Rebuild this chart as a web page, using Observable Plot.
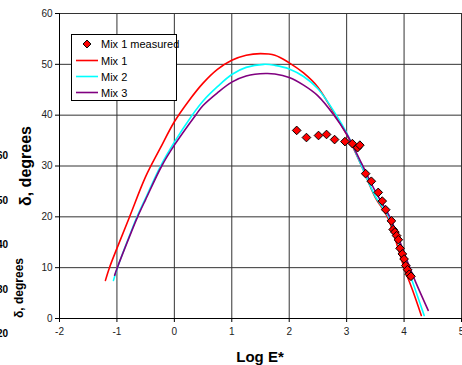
<!DOCTYPE html>
<html><head><meta charset="utf-8">
<script src="https://cdn.jsdelivr.net/npm/d3@7"></script>
<script src="https://cdn.jsdelivr.net/npm/@observablehq/plot@0.6"></script>
<style>
body{margin:0;background:#fff;}
#chart{position:relative;width:462px;height:365px;overflow:hidden;}
</style>
</head><body><div id="chart"></div>
<script>
// Tick values
const xTicks = [-2, -1, 0, 1, 2, 3, 4, 5];
const yTicks = [0, 10, 20, 30, 40, 50, 60];

// Mix 1 model curve
const mix1X = [-1.2, -1.13, -1.0, -0.78, -0.5, -0.25, 0, 0.25, 0.5, 0.75, 1, 1.25, 1.5, 1.75, 2, 2.25, 2.5, 2.8, 3, 3.26, 3.5, 3.71, 4, 4.15, 4.3];
const mix1Y = [7.5, 10, 13.8, 20, 27.9, 33.4, 38.7, 42.8, 46.3, 49.0, 50.8, 51.8, 52.1, 51.8, 50.3, 48.3, 45.5, 40, 36.2, 30, 23.8, 20, 10, 5.5, 0.6];

// Mix 2 model curve
const mix2X = [-1.06, -1, -0.75, -0.65, -0.5, -0.24, 0, 0.31, 0.5, 0.75, 1, 1.25, 1.56, 1.75, 2, 2.25, 2.5, 2.82, 3, 3.26, 3.5, 3.73, 4.06, 4.2, 4.35];
const mix2Y = [7.5, 9.7, 17.2, 20, 23.7, 30, 34.7, 40, 42.8, 45.6, 48, 49.4, 50, 49.8, 49.1, 47.6, 45.2, 40, 36.5, 30, 24, 20, 10, 5.5, 0.6];

// Mix 3 model curve
const mix3X = [-1.04, -1, -0.75, -0.64, -0.5, -0.22, 0, 0.37, 0.5, 0.75, 1, 1.25, 1.59, 1.75, 2, 2.25, 2.5, 2.78, 3, 3.26, 3.5, 3.75, 4.1, 4.2, 4.42];
const mix3Y = [8.5, 9.8, 17.0, 20, 23.4, 30, 34.1, 40, 41.9, 44.4, 46.5, 47.7, 48.2, 48.1, 47.4, 45.9, 43.8, 40, 36.3, 30.5, 25, 20, 10, 7.2, 1.6];

// Mix 1 measured points
const measX = [2.13, 2.30, 2.51, 2.65, 2.79, 2.97, 3.10, 3.19, 3.23, 3.33, 3.43, 3.55, 3.62, 3.68, 3.78, 3.81, 3.84, 3.87, 3.90, 3.93, 3.97, 4.00, 4.03, 4.06, 4.09, 4.12];
const measY = [37.0, 35.6, 36.0, 36.2, 35.2, 34.8, 34.4, 33.6, 34.1, 28.5, 27.0, 24.8, 23.1, 21.4, 19.2, 17.5, 17.0, 16.3, 15.5, 13.8, 12.7, 11.7, 10.4, 9.6, 8.7, 8.3];

// Series names / colours
const seriesNames = ["Mix 1 measured", "Mix 1", "Mix 2", "Mix 3"];
const seriesColors = ["#ff0000", "#ff0000", "#00ffff", "#800080"];

// Stray labels from the neighbouring figure (cut at the left edge)
const ghostTicks = ["60", "50", "40", "30", "20"];

const toRows = (xs, ys) => xs.map((x, i) => ({x, y: ys[i]}));
const mix1 = toRows(mix1X, mix1Y);
const mix2 = toRows(mix2X, mix2Y);
const mix3 = toRows(mix3X, mix3Y);
const meas = toRows(measX, measY);

const font = "'Liberation Sans', Arial, sans-serif";

const chart = Plot.plot({
  width: 462, height: 365,
  marginLeft: 59, marginRight: 1, marginTop: 13, marginBottom: 47,
  style: {fontFamily: font, fontSize: "10px", background: "#fff", color: "#222"},
  x: {domain: [-2, 5], label: null},
  y: {domain: [0, 60], label: null},
  marks: [
    Plot.gridX(xTicks, {stroke: "#333", strokeOpacity: 1, strokeWidth: 1}),
    Plot.gridY(yTicks, {stroke: "#333", strokeOpacity: 1, strokeWidth: 1}),
    Plot.axisX(xTicks, {tickSize: 4, tickPadding: 5, stroke: "#000", fill: "#222", label: null, tickFormat: d => String(d)}),
    Plot.axisY(yTicks, {tickSize: 4, tickPadding: 3, stroke: "#000", fill: "#222", label: null}),
    Plot.ruleY([0], {stroke: "#000", strokeWidth: 1}),
    Plot.ruleX([-2], {stroke: "#000", strokeWidth: 1}),
    Plot.line(mix1, {x: "x", y: "y", stroke: seriesColors[1], strokeWidth: 1.6, curve: "catmull-rom"}),
    Plot.line(mix2, {x: "x", y: "y", stroke: seriesColors[2], strokeWidth: 1.6, curve: "catmull-rom"}),
    Plot.line(mix3, {x: "x", y: "y", stroke: seriesColors[3], strokeWidth: 1.6, curve: "catmull-rom"}),
    Plot.dot(meas, {x: "x", y: "y", symbol: "diamond2", r: 3.9, fill: seriesColors[0], stroke: "#000", strokeWidth: 1})
  ]
});
document.getElementById("chart").appendChild(chart);

const svg = d3.select(chart);
svg.attr("overflow", "hidden");

// Axis titles
svg.append("text").attr("x", 260).attr("y", 362).attr("text-anchor", "middle")
  .attr("font-family", font).attr("font-weight", "bold").attr("font-size", 15).attr("fill", "#000").text("Log E*");
svg.append("text").attr("transform", "translate(31,166) rotate(-90)").attr("text-anchor", "middle")
  .attr("font-family", font).attr("font-weight", "bold").attr("font-size", 16).attr("fill", "#000").text("δ, degrees");

// Ghost labels
const ghostY = d3.scaleLinear().domain([0, ghostTicks.length - 1]).range([159, 337]);
ghostTicks.forEach((t, i) => {
  svg.append("text").attr("x", 8).attr("y", ghostY(i)).attr("text-anchor", "end")
    .attr("font-family", font).attr("font-weight", "bold").attr("font-size", 10).attr("fill", "#000").text(t);
});
svg.append("text").attr("transform", "translate(23,288) rotate(-90)").attr("text-anchor", "middle")
  .attr("font-family", font).attr("font-weight", "bold").attr("font-size", 12).attr("fill", "#000").text("δ, degrees");

// Legend
const lg = svg.append("g").attr("text-anchor", "start");
lg.append("rect").attr("x", 71.5).attr("y", 34.5).attr("width", 105).attr("height", 66)
  .attr("fill", "#fff").attr("stroke", "#000").attr("stroke-width", 1);
const rowY = [44, 60.5, 76.5, 92.5];
seriesNames.forEach((name, i) => {
  if (i === 0) {
    lg.append("path").attr("d", d3.symbol(d3.symbolDiamond2, 40)()).attr("transform", `translate(87,${rowY[i]})`)
      .attr("fill", seriesColors[i]).attr("stroke", "#000").attr("stroke-width", 1);
  } else {
    lg.append("line").attr("x1", 76).attr("x2", 98).attr("y1", rowY[i]).attr("y2", rowY[i])
      .attr("stroke", seriesColors[i]).attr("stroke-width", 1.6);
  }
  lg.append("text").attr("x", 101).attr("y", rowY[i] + 4).attr("text-anchor", "start")
    .attr("font-family", font).attr("font-size", 11).attr("fill", "#000").text(name);
});
</script>
</body></html>
